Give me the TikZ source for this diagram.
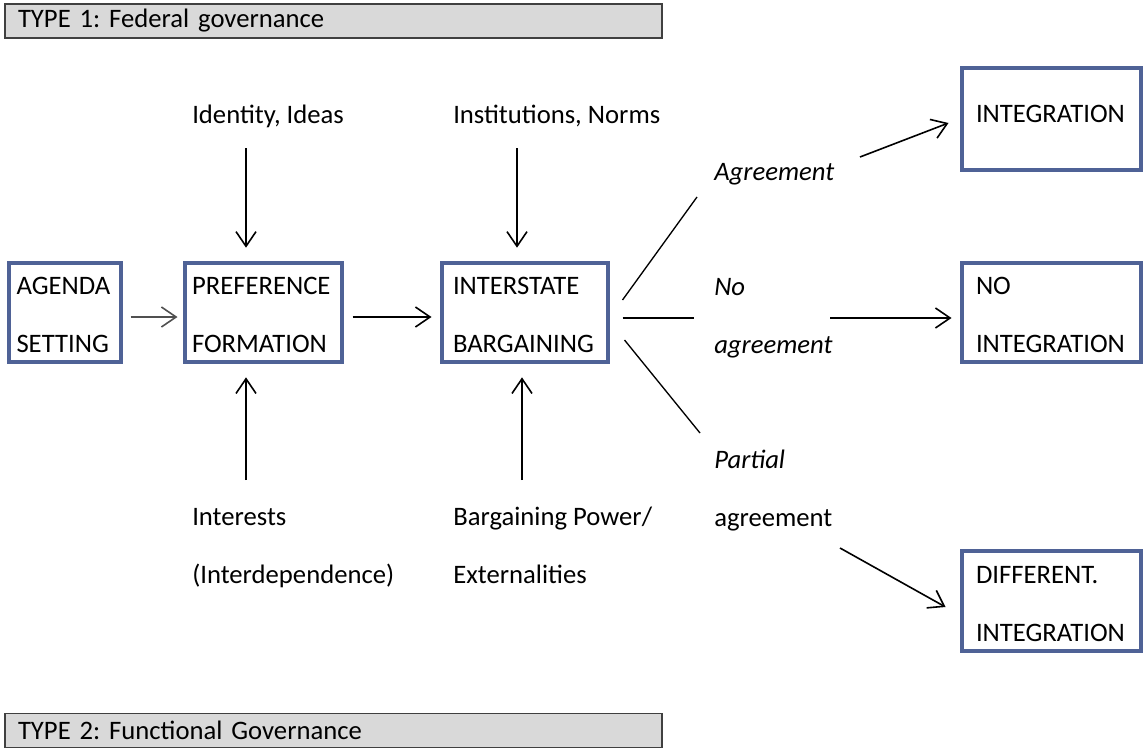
\documentclass[tikz,border=0pt]{standalone}
\usepackage{fontspec}
\setmainfont{Carlito}
\usetikzlibrary{arrows.meta}
\usetikzlibrary{calc}
\frenchspacing

\definecolor{boxblue}{RGB}{79,98,150}
\definecolor{headgray}{RGB}{217,217,217}
\definecolor{headline}{RGB}{64,64,64}

\tikzset{
  box/.style={draw=boxblue, line width=3pt, align=left, inner sep=0pt, font=\fontsize{20}{43.5}\selectfont},
  boxtwo/.style={box, execute at begin node={\rule{0pt}{18pt}}},
  head/.style={draw=headline, fill=headgray, line width=1.1pt, align=left, inner sep=0pt, minimum width=492.75pt, text width=473.25pt, minimum height=25.5pt, font=\fontsize{20}{24}\selectfont},
  lbl/.style={anchor=west, inner sep=0pt, align=left, font=\fontsize{20}{43.5}\selectfont},
  arr/.style={-{Straight Barb[length=11pt,width=15pt]}, line width=1.2pt},
}

\begin{document}
\begin{tikzpicture}[x=0.75pt,y=0.75pt,yscale=-1,xscale=1]
\useasboundingbox (0,0) rectangle (1145,749); %set diagram to 1145 x 749

%Shape: Rectangle [headers]
\node[head] (type1) at (333.5,21) {TYPE 1: Federal governance};
\node[head] (type2) at (333.5,730.5) {TYPE 2: Functional Governance};

%Shape: Rectangle [stages]
\node[boxtwo, minimum width=84pt, minimum height=74.25pt, text width=72pt] (agenda) at (64.5,312) {AGENDA\\SETTING};
\node[boxtwo, minimum width=117.75pt, minimum height=74.25pt, text width=106.5pt] (pref) at (263,312) {PREFERENCE\\FORMATION};
\node[boxtwo, minimum width=124.5pt, minimum height=74.25pt, text width=107.25pt] (barg) at (524.5,312) {INTERSTATE\\BARGAINING};
%Shape: Rectangle [outcomes]
\node[box, minimum width=134.25pt, minimum height=75.75pt, text width=112.5pt, text depth=7.5pt] (integ) at (1051,119) {INTEGRATION};
\node[boxtwo, minimum width=134.25pt, minimum height=74.25pt, text width=112.5pt] (noint) at (1051,312) {NO\\INTEGRATION};
\node[boxtwo, minimum width=134.25pt, minimum height=75pt, text width=112.5pt] (diff) at (1051,600.5) {DIFFERENT.\\INTEGRATION};

% Text Node
\node[lbl] (ideas) at (192,116) {Identity, Ideas};
% Text Node
\node[lbl] (norms) at (453,116) {Institutions, Norms};
% Text Node
\node[lbl] (interests) at (192,548) {Interests\\(Interdependence)};
% Text Node
\node[lbl] (power) at (453,545) {Bargaining Power/\\Externalities};
% Text Node
\node[lbl] (agree) at (714,174) {\textit{Agreement}};
% Text Node
\node[lbl] (noagree) at (714,318) {\textit{No}\\\textit{agreement}};
% Text Node
\node[lbl] (partial) at (714,491) {\textit{Partial}\\agreement};

%Straight Lines [main chain]
\draw[arr, color={rgb,255:red,80;green,80;blue,80}] ($(agenda.east)+(8,5)$) -- ($(pref.west)+(-5,5)$);
\draw[arr] ($(pref.east)+(9,5)$) -- ($(barg.west)+(-8,5)$);

%Straight Lines [influences]
\coordinate (ideasin) at (246,148);
\coordinate (normsin) at (517,148);
\coordinate (interestsout) at (246,480);
\coordinate (powerout) at (522,480);
\draw[arr, shorten >=9.6pt] (ideasin) -- (ideasin |- pref.north);
\draw[arr, shorten >=9.6pt] (normsin) -- (normsin |- barg.north);
\draw[arr, shorten >=10.4pt] (interestsout) -- (interestsout |- pref.south);
\draw[arr, shorten >=10.4pt] (powerout) -- (powerout |- barg.south);

%Straight Lines [branches]
\coordinate (agreefoot) at (697,197);
\coordinate (nofoot) at (694,318);
\coordinate (partialfoot) at (700,433);
\draw[line width=1pt] ($(barg.east)+(13,-12)$) -- (agreefoot);
\draw[line width=1pt] ($(barg.east)+(13,6)$) -- (nofoot);
\draw[line width=1pt] ($(barg.east)+(15,28)$) -- (partialfoot);

%Straight Lines [outcomes]
\coordinate (agreeout) at (860,157);
\coordinate (noout) at (830,318);
\coordinate (partialout) at (840,548);
\draw[arr] (agreeout) -- ($(integ.west)+(-11,4)$);
\draw[arr] (noout) -- ($(noint.west)+(-8,6)$);
\draw[arr] (partialout) -- ($(diff.west)+(-14,6.5)$);

\end{tikzpicture}
\end{document}
